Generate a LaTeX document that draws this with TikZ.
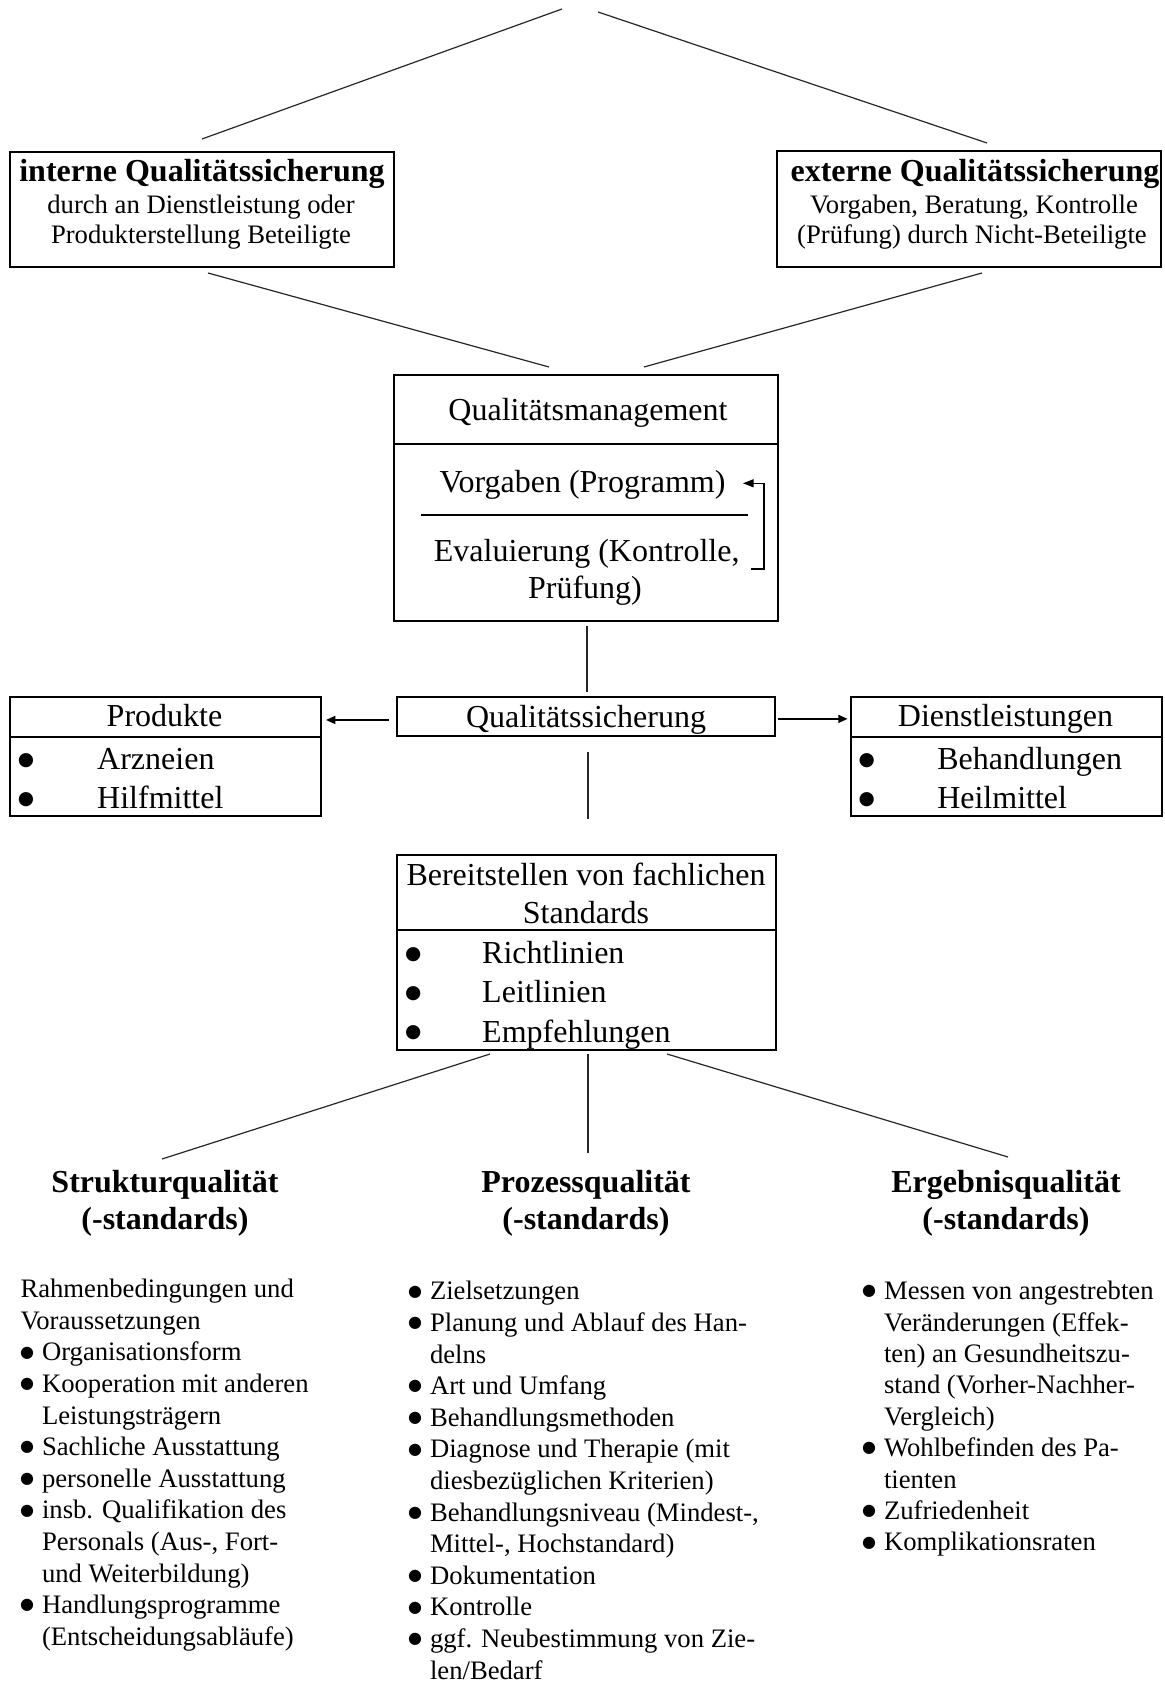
\documentclass[tikz,border=0pt]{standalone}
\usepackage{fontspec}
\setmainfont{Liberation Serif}
\newfontfamily\dotfont{DejaVu Sans}
\usetikzlibrary{arrows.meta}
% one unit = one pixel at 192 dpi
\newcommand\pxw[1]{#1*0.375pt}
\newcommand\bdot[2]{\raisebox{#2}{{\dotfont\fontsize{#1}{#1}\selectfont ●}}}
\newcommand\lbul{\makebox[8.06pt][l]{\makebox[4.9pt][c]{\bdot{6}{1.4pt}}}}
\newcommand\lind{\hspace*{8.06pt}}
\begin{document}
\begin{tikzpicture}[x=0.375pt,y=-0.375pt,
  box/.style={draw,line width=0.75pt,inner sep=0pt},
  rule/.style={line width=0.75pt},
  conn/.style={line width=0.45pt,draw=black!85},
  arr/.style={line width=0.6pt,-{Triangle[length=3.5pt,width=3pt]}},
  fb/.style={line width=0.45pt,-{Triangle[length=4pt,width=3pt]}},
  big/.style={font=\fontsize{12}{13.8}\selectfont,inner sep=0pt,anchor=base},
  bigb/.style={font=\fontsize{12}{13.8}\selectfont\bfseries,inner sep=0pt,anchor=base},
  small/.style={font=\fontsize{10}{11.5}\selectfont,inner sep=0pt,anchor=base},
  item/.style={font=\fontsize{12}{13.8}\selectfont,inner sep=0pt,anchor=base west},
  dot/.style={inner sep=0pt,anchor=base},
  lst/.style={font=\fontsize{10}{11.5}\selectfont,inner sep=0pt,anchor=base west},
  head/.style={font=\fontsize{12}{13.8}\selectfont\bfseries,inner sep=0pt,anchor=base,align=center},
]
\useasboundingbox (0,0) rectangle (1165,1682);

% ---- boxes
\node[box,minimum width=\pxw{384},minimum height=\pxw{115}] (int) at (202,209.5) {};
\node[box,minimum width=\pxw{384},minimum height=\pxw{116}] (ext) at (969,209) {};
\node[box,minimum width=\pxw{384},minimum height=\pxw{246}] (qm) at (586,498) {};
\node[box,minimum width=\pxw{378},minimum height=\pxw{39}] (qs) at (586,716.5) {};
\node[box,minimum width=\pxw{311},minimum height=\pxw{119}] (prod) at (165.5,756.5) {};
\node[box,minimum width=\pxw{311},minimum height=\pxw{119}] (dl) at (1006.5,756.5) {};
\node[box,minimum width=\pxw{379},minimum height=\pxw{195}] (std) at (586.5,952.5) {};

% ---- dividers inside boxes
\draw[rule] (qm.west |- 0,444.5) -- (qm.east |- 0,444.5);
\draw[rule] (prod.west |- 0,736.5) -- (prod.east |- 0,736.5);
\draw[rule] (dl.west |- 0,736.5) -- (dl.east |- 0,736.5);
\draw[rule] (std.west |- 0,930) -- (std.east |- 0,930);
\draw[line width=0.45pt] (421,515) -- (748,515);

% ---- texts in the top boxes
\node[bigb] (intT) at (202,182) {interne Qualitätssicherung};
\node[small] (intA) at (201,213.3) {durch an Dienstleistung oder};
\node[small] (intB) at (201,243.8) {Produkterstellung Beteiligte};
\node[bigb] (extT) at (975,182) {externe Qualitätssicherung};
\node[small] (extA) at (974,213.3) {Vorgaben, Beratung, Kontrolle};
\node[small] (extB) at (972,243.8) {(Prüfung) durch Nicht-Beteiligte};

% ---- quality management
\node[big] (qmT) at (588,420.6) {Qualitätsmanagement};
\node[big] (vorg) at (582.5,492.3) {Vorgaben (Programm)};
\node[big] (eval) at (586.7,562) {Evaluierung (Kontrolle,};
\node[big] (pruef) at (585,598) {Prüfung)};
\coordinate (fbS) at (751,569);
\coordinate (fbT) at (743,483.3);
\draw[fb] (fbS) -| (764,483.3) -- (fbT);

% ---- quality assurance row
\node[big] (qsT) at (586,727.3) {Qualitätssicherung};
\node[big] (prodT) at (164.5,726) {Produkte};
\node[dot] (pd1) at (26,769.3) {\bdot{7}{1.6pt}};
\node[item] (pi1) at (96.7,769.3) {Arzneien};
\node[dot] (pd2) at (26,808.8) {\bdot{7}{1.6pt}};
\node[item] (pi2) at (96.7,808.8) {Hilfmittel};
\node[big] (dlT) at (1005.5,726) {Dienstleistungen};
\node[dot] (dd1) at (866.7,769.3) {\bdot{7}{1.6pt}};
\node[item] (di1) at (936.7,769.3) {Behandlungen};
\node[dot] (dd2) at (866.7,808.8) {\bdot{7}{1.6pt}};
\node[item] (di2) at (936.7,808.8) {Heilmittel};

% ---- standards box
\node[big] (stdA) at (586,885.7) {Bereitstellen von fachlichen};
\node[big] (stdB) at (586,923.4) {Standards};
\node[dot] (sd1) at (413.3,963.6) {\bdot{7}{1.6pt}};
\node[item] (si1) at (481.7,963.6) {Richtlinien};
\node[dot] (sd2) at (413.3,1002.8) {\bdot{7}{1.6pt}};
\node[item] (si2) at (481.7,1002.8) {Leitlinien};
\node[dot] (sd3) at (413.3,1042) {\bdot{7}{1.6pt}};
\node[item] (si3) at (481.7,1042) {Empfehlungen};

% ---- connectors
\coordinate (apexL) at (562,9);
\coordinate (apexR) at (598,12);
\draw[conn] (apexL) -- ([yshift=4.5pt]int.north);
\draw[conn] (apexR) -- ([shift={(18,-7)}]ext.north);
\draw[conn] ([shift={(6,5)}]int.south) -- ([shift={(-37,-7)}]qm.north);
\draw[conn] ([shift={(13,5)}]ext.south) -- ([shift={(58,-7)}]qm.north);
\draw[conn] ([shift={(1,4)}]qm.south) -- ([shift={(1,-4)}]qs.north);
\draw[conn] ([shift={(2,15)}]qs.south) -- ([shift={(1.5,-35)}]std.north);
\coordinate (qsL) at ([yshift=-1.3pt]qs.west);
\coordinate (qsR) at ([yshift=-0.9pt]qs.east);
\draw[arr,shorten <=2.6pt,shorten >=1.5pt] (qsL) -- (qsL -| prod.east);
\draw[arr,shorten <=0.6pt,shorten >=0.9pt] (qsR) -- (qsR -| dl.west);

% ---- three dimensions of quality (base = last line)
\node[head] (sq) at (165,1229.5) {Strukturqualität\\(-standards)};
\node[head] (pq) at (586,1229.5) {Prozessqualität\\(-standards)};
\node[head] (eq) at (1006,1229.5) {Ergebnisqualität\\(-standards)};
\coordinate (sqTop) at (162,1159);
\coordinate (pqTop) at (588,1153);
\coordinate (eqTop) at (1008,1157);
\draw[conn] ([shift={(-96.5,3)}]std.south) -- (sqTop);
\draw[conn] ([shift={(1.5,3)}]std.south) -- (pqTop);
\draw[conn] ([shift={(80.5,3)}]std.south) -- (eqTop);

% ---- lists
\foreach \txt [count=\i from 0] in {
  {Rahmenbedingungen und},
  {Voraussetzungen},
  {\lbul Organisationsform},
  {\lbul Kooperation mit anderen},
  {\lind Leistungsträgern},
  {\lbul Sachliche Ausstattung},
  {\lbul personelle Ausstattung},
  {\lbul insb. Qualifikation des},
  {\lind Personals (Aus-, Fort-},
  {\lind und Weiterbildung)},
  {\lbul Handlungsprogramme},
  {\lind (Entscheidungsabläufe)}}
  \node[lst] (sl\i) at (20,{1297.6+31.6*\i}) {\txt};

\foreach \txt [count=\i from 0] in {
  {\lbul Zielsetzungen},
  {\lbul Planung und Ablauf des Han-},
  {\lind delns},
  {\lbul Art und Umfang},
  {\lbul Behandlungsmethoden},
  {\lbul Diagnose und Therapie (mit},
  {\lind diesbezüglichen Kriterien)},
  {\lbul Behandlungsniveau (Mindest-,},
  {\lind Mittel-, Hochstandard)},
  {\lbul Dokumentation},
  {\lbul Kontrolle},
  {\lbul ggf. Neubestimmung von Zie-},
  {\lind len/Bedarf}}
  \node[lst] (pl\i) at (408,{1299.8+31.6*\i}) {\txt};

\foreach \txt [count=\i from 0] in {
  {\lbul Messen von angestrebten},
  {\lind Veränderungen (Effek-},
  {\lind ten) an Gesundheitszu-},
  {\lind stand (Vorher-Nachher-},
  {\lind Vergleich)},
  {\lbul Wohlbefinden des Pa-},
  {\lind tienten},
  {\lbul Zufriedenheit},
  {\lbul Komplikationsraten}}
  \node[lst] (el\i) at (862,{1299.7+31.4*\i}) {\txt};
\end{tikzpicture}
\end{document}
